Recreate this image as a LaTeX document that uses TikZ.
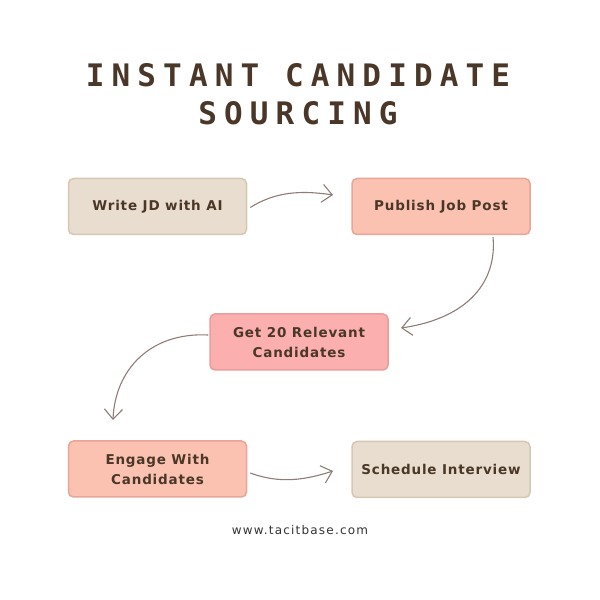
\documentclass[tikz,border=0pt]{standalone}
\usepackage{fontspec}
\setmainfont{DejaVu Sans}
\newfontfamily\titlefont[LetterSpace=23]{DejaVu Sans Mono}
\newfontfamily\boxfont[LetterSpace=6]{DejaVu Sans}
\newfontfamily\webfont[LetterSpace=10]{DejaVu Sans}
\usetikzlibrary{arrows.meta}
\definecolor{ink}{HTML}{4A3728}
\definecolor{sand}{HTML}{E8DDCE}
\definecolor{sandline}{HTML}{D6C7B4}
\definecolor{peach}{HTML}{FBC1B1}
\definecolor{peachline}{HTML}{E9A596}
\definecolor{rose}{HTML}{FBAFAF}
\definecolor{roseline}{HTML}{EB9C9C}
\definecolor{flow}{HTML}{8E7C76}
\begin{document}
\begin{tikzpicture}
[x=1pt,y=1pt,
stepbox/.style={rectangle,rounded corners=5pt,line width=1.5pt,minimum width=178pt,minimum height=56pt,align=center,text=ink,font=\boxfont\bfseries\fontsize{13.5}{20}\selectfont},
sandbox/.style={stepbox,fill=sand,draw=sandline},
peachbox/.style={stepbox,fill=peach,draw=peachline},
rosebox/.style={stepbox,fill=rose,draw=roseline},
flowline/.style={draw=flow,line width=1.1pt,-{Straight Barb[length=10pt,width=18pt,line width=1.1pt]}}]
\useasboundingbox (0,0) rectangle (600,600);
% title
\node[text=ink,font=\titlefont\bfseries\fontsize{31}{38}\selectfont] (t1) at (298,525) {INSTANT CANDIDATE};
\node[text=ink,font=\titlefont\bfseries\fontsize{31}{38}\selectfont] (t2) at (298,487) {SOURCING};
% steps
\node[sandbox] (s1) at (157.5,393.5) {Write JD with AI};
\node[peachbox] (s2) at (441,393.5) {Publish Job Post};
\node[rosebox] (s3) at (299,258) {Get 20 Relevant\\Candidates};
\node[peachbox] (s4) at (157.5,131) {Engage With\\Candidates};
\node[sandbox] (s5) at (441,130.5) {Schedule Interview};
% arrows
\coordinate (e1) at (333,405);
\coordinate (e2) at (401,272);
\coordinate (e3) at (113,180);
\coordinate (e4) at (333,129);
\draw[flowline] ([xshift=3pt,yshift=-1pt]s1.east) .. controls (275,408) and (300,410) .. (e1);
\draw[flowline] ([xshift=52pt,yshift=-2pt]s2.south) .. controls (497,320) and (470,282) .. (e2);
\draw[flowline] ([yshift=7pt,xshift=-1pt]s3.west) .. controls (150,268) and (115,230) .. (e3);
\draw[flowline] ([xshift=3pt,yshift=-4pt]s4.east) .. controls (280,116) and (305,120) .. (e4);
% footer
\node[text=black!80,font=\webfont\fontsize{12}{14}\selectfont] (web) at (300,70) {www.tacitbase.com};
\end{tikzpicture}
\end{document}
